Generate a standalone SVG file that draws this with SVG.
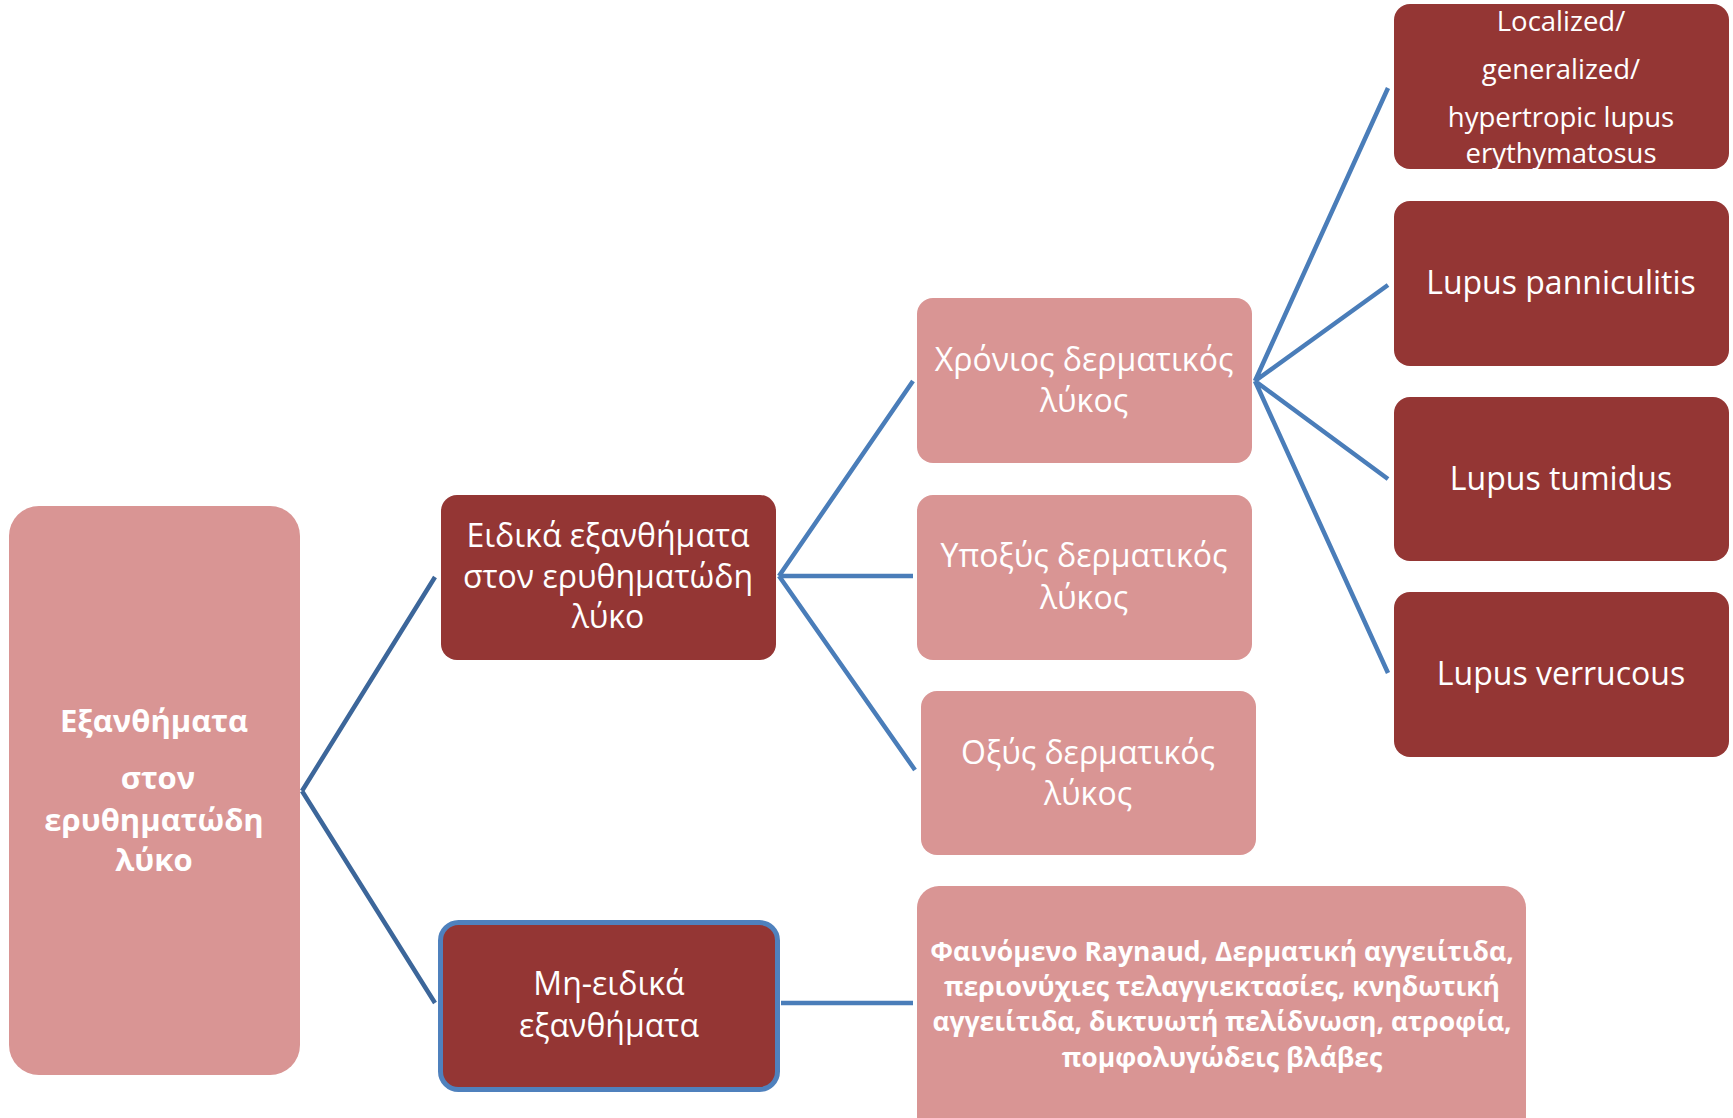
<svg xmlns="http://www.w3.org/2000/svg" width="1733" height="1118" viewBox="0 0 1733 1118">
<style>
.dark{fill:#943634}
.pink{fill:#d99594}
.t{font-family:"Open Sans","Noto Sans",sans-serif;fill:#ffffff;text-anchor:middle}
.m{font-size:32px}
.s{font-size:27.5px}
.b{font-weight:bold}
.c{fill:none;stroke:#4a7db9;stroke-width:4.5}
.c0{fill:none;stroke:#3c669a;stroke-width:4.5}
</style>
<rect width="1733" height="1118" fill="#ffffff"/>
<g id="connectors">
<path class="c0" d="M302,791 L435,577 M302,791 L435,1003"/>
<path class="c" d="M779,576 L913,381 M779,576 L913,576 M779,576 L915,770"/>
<path class="c" d="M781,1003 L913,1003"/>
<path class="c" d="M1255,381 L1388,88 M1255,381 L1388,285 M1255,381 L1388,479 M1255,381 L1388,673"/>
</g>
<g id="root">
<rect class="pink" x="9" y="506" width="291" height="569" rx="30"/>
<text class="t b" font-size="31" x="154" y="732">Εξανθήματα</text>
<text class="t b" font-size="31" x="158" y="789">στον</text>
<text class="t b" font-size="31" x="154" y="831">ερυθηματώδη</text>
<text class="t b" font-size="31" x="154" y="871">λύκο</text>
</g>
<g id="specific">
<rect class="dark" x="441" y="495" width="335" height="165" rx="16"/>
<text class="t m" x="608" y="547">Ειδικά εξανθήματα</text>
<text class="t m" x="608" y="588">στον ερυθηματώδη</text>
<text class="t m" x="608" y="628">λύκο</text>
</g>
<g id="nonspecific">
<rect class="dark" x="440.5" y="922.5" width="337" height="167" rx="18" stroke="#4f81bd" stroke-width="5"/>
<text class="t m" x="609" y="995">Μη-ειδικά</text>
<text class="t m" x="609" y="1037">εξανθήματα</text>
</g>
<g id="chronic">
<rect class="pink" x="917" y="298" width="335" height="165" rx="16"/>
<text class="t m" x="1084" y="371">Χρόνιος δερματικός</text>
<text class="t m" x="1084" y="412">λύκος</text>
</g>
<g id="subacute">
<rect class="pink" x="917" y="495" width="335" height="165" rx="16"/>
<text class="t m" x="1084" y="567">Υποξύς δερματικός</text>
<text class="t m" x="1084" y="609">λύκος</text>
</g>
<g id="acute">
<rect class="pink" x="921" y="691" width="335" height="164" rx="16"/>
<text class="t m" x="1088" y="764">Οξύς δερματικός</text>
<text class="t m" x="1088" y="805">λύκος</text>
</g>
<g id="other">
<rect class="pink" x="917" y="886" width="609" height="260" rx="22"/>
<text class="t b" font-size="26.5" x="1222" y="961">Φαινόμενο Raynaud, Δερματική αγγειίτιδα,</text>
<text class="t b" font-size="26.5" x="1222" y="996">περιονύχιες τελαγγιεκτασίες, κνηδωτική</text>
<text class="t b" font-size="26.5" x="1222" y="1031">αγγειίτιδα, δικτυωτή πελίδνωση, ατροφία,</text>
<text class="t b" font-size="26.5" x="1222" y="1067">πομφολυγώδεις βλάβες</text>
</g>
<g id="localized">
<rect class="dark" x="1394" y="4" width="335" height="165" rx="16"/>
<text class="t s" x="1561" y="31">Localized/</text>
<text class="t s" x="1561" y="79">generalized/</text>
<text class="t s" x="1561" y="127">hypertropic lupus</text>
<text class="t s" x="1561" y="163">erythymatosus</text>
</g>
<g id="panniculitis">
<rect class="dark" x="1394" y="201" width="335" height="165" rx="16"/>
<text class="t m" x="1561" y="294">Lupus panniculitis</text>
</g>
<g id="tumidus">
<rect class="dark" x="1394" y="397" width="335" height="164" rx="16"/>
<text class="t m" x="1561" y="490">Lupus tumidus</text>
</g>
<g id="verrucous">
<rect class="dark" x="1394" y="592" width="335" height="165" rx="16"/>
<text class="t m" x="1561" y="685">Lupus verrucous</text>
</g>
</svg>
